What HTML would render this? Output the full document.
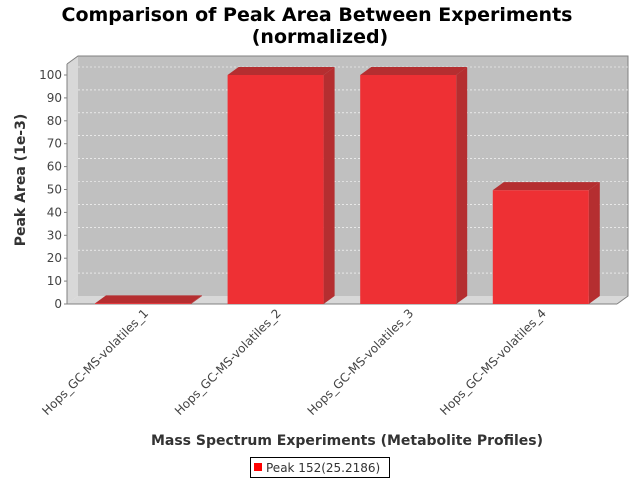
<!DOCTYPE html>
<html><head><meta charset="utf-8"><style>
body{margin:0;background:#fff;font-family:"Liberation Sans","DejaVu Sans",sans-serif}
svg text{font-family:"DejaVu Sans","Liberation Sans",sans-serif}
</style></head><body>
<svg width="640" height="480" viewBox="0 0 640 480">
<text x="317" y="21" text-anchor="middle" font-size="19" font-weight="bold">Comparison of Peak Area Between Experiments</text>
<text x="320" y="43" text-anchor="middle" font-size="19" font-weight="bold">(normalized)</text>
<g id="plot"></g>
<text transform="translate(25,180) rotate(-90)" text-anchor="middle" font-size="14" font-weight="bold" fill="#333">Peak Area (1e-3)</text>
<text x="347" y="445" text-anchor="middle" font-size="14" font-weight="bold" fill="#333">Mass Spectrum Experiments (Metabolite Profiles)</text>
<g>
<rect x="250.5" y="457.5" width="139" height="20" fill="#fff" stroke="#000"/>
<rect x="254" y="463" width="8" height="8" fill="#f00"/>
<text x="266" y="472" font-size="12" fill="#333">Peak 152(25.2186)</text>
</g>
</svg>
<script>
const categories=["Hops_GC-MS-volatiles_1","Hops_GC-MS-volatiles_2","Hops_GC-MS-volatiles_3","Hops_GC-MS-volatiles_4"];
const values=[0.3,100,100,49.7];
const yTicks=[0,10,20,30,40,50,60,70,80,90,100];
const NS="http://www.w3.org/2000/svg";
const g=document.getElementById('plot');
const X0=67,Y0=304,DX=11,DY=8,W=550,PX=2.29;
const y=v=>Y0-v*PX;
const xBar=i=>95+i*132.6;
const BW=96;
function mk(t,a){const e=document.createElementNS(NS,t);for(const k in a)e.setAttribute(k,a[k]);g.appendChild(e);return e;}
// back wall
let e=mk('rect',{x:X0+DX,y:56,width:W,height:Y0-DY-56,fill:'#c0c0c0'});


// left wall
e=mk('polygon',{points:`${X0},${Y0} ${X0},64 ${X0+DX},56 ${X0+DX},${Y0-DY}`,fill:'#d8d8d8'});


// floor
e=mk('polygon',{points:`${X0},${Y0} ${X0+DX},${Y0-DY} ${X0+DX+W},${Y0-DY} ${X0+W},${Y0}`,fill:'#d8d8d8'});


e=mk('polyline',{points:`${X0},64 ${X0+DX},56 ${X0+DX+W},56 ${X0+DX+W},${Y0-DY} ${X0+W},${Y0}`,fill:'none',stroke:'#808080'});


// grid + ticks
yTicks.forEach(t=>{
 if(t>0){e=mk('line',{x1:X0+DX,x2:X0+DX+W,y1:y(t)-DY,y2:y(t)-DY,stroke:'#fff','stroke-dasharray':'2,2','stroke-width':0.6});
 
 }
 e=mk('line',{x1:X0-3,x2:X0,y1:y(t),y2:y(t),stroke:'#808080'});
 
 
 e=mk('text',{x:X0-5,y:y(t)+4,'text-anchor':'end','font-size':12,fill:'#444'});e.textContent=t;
 
 
});
e=mk('line',{x1:X0,x2:X0,y1:64,y2:Y0,stroke:'#808080'});


e=mk('line',{x1:X0,x2:X0+W,y1:Y0,y2:Y0,stroke:'#808080'});


// bars
values.forEach((v,i)=>{
 const x=xBar(i),t=y(v);
 e=mk('polygon',{points:`${x+BW},${Y0} ${x+BW},${t} ${x+BW+DX},${t-DY} ${x+BW+DX},${Y0-DY}`,fill:'#b52e30'});
 
 
 e=mk('polygon',{points:`${x},${t} ${x+DX},${t-DY} ${x+BW+DX},${t-DY} ${x+BW},${t}`,fill:'#b52e30'});
 
 
 e=mk('rect',{x:x,y:t,width:BW,height:Y0-t,fill:'#ee3034'});
 
 
 const cx=x+BW/2+6;
 e=mk('text',{x:cx,y:314,'text-anchor':'end','font-size':12,fill:'#444',transform:`rotate(-45 ${cx} 314)`});e.textContent=categories[i];
 
 
});
</script>
</body></html>
